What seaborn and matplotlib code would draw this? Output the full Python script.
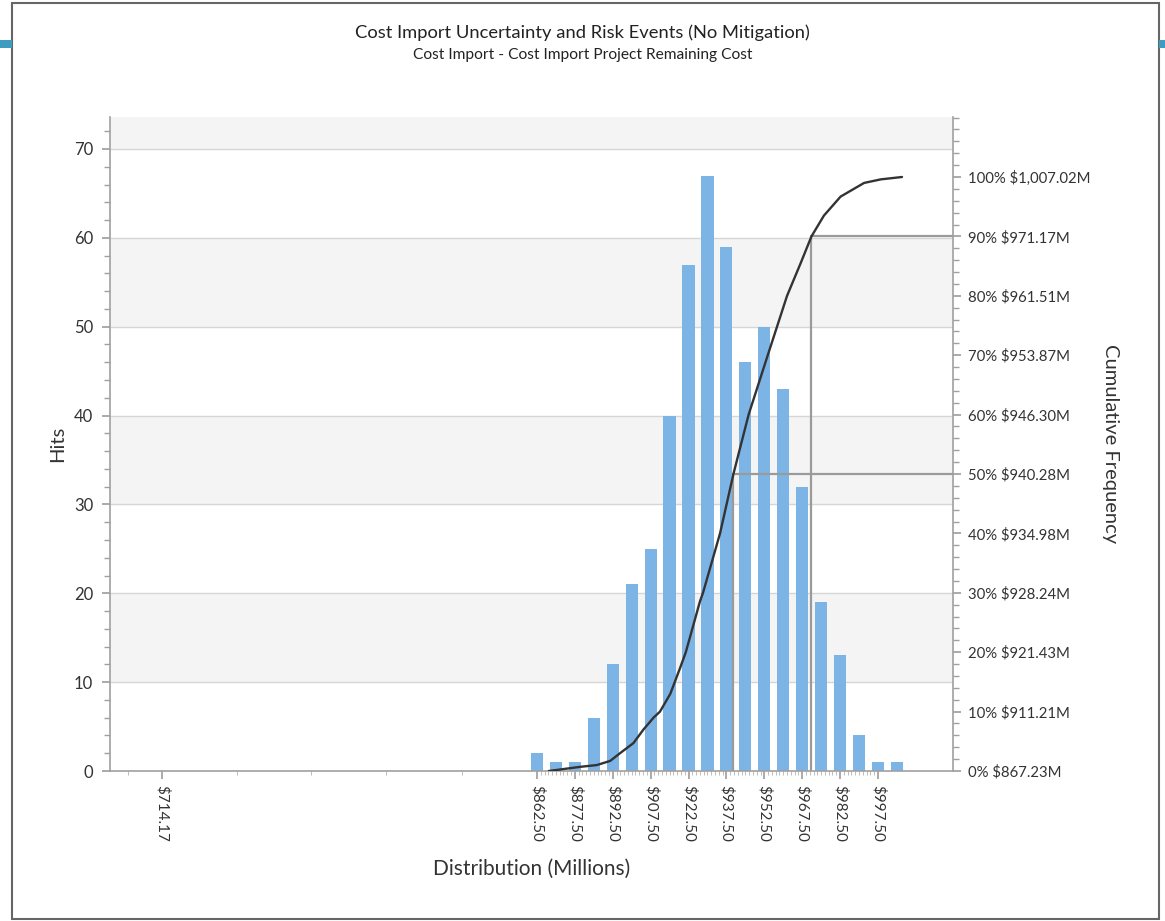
import numpy as np
import pandas as pd
import matplotlib
matplotlib.use("Agg")
import matplotlib.pyplot as plt
from matplotlib.patches import Rectangle
from matplotlib.ticker import FixedLocator, MultipleLocator
import seaborn as sns

# ---------------- data ----------------
bin_centers = [862.5, 870.0, 877.5, 885.0, 892.5, 900.0, 907.5, 915.0, 922.5, 930.0,
               937.5, 945.0, 952.5, 960.0, 967.5, 975.0, 982.5, 990.0, 997.5, 1005.0]
hits = [2, 1, 1, 6, 12, 21, 25, 40, 57, 67, 59, 46, 50, 43, 32, 19, 13, 4, 1, 1]

x_tick_values = [714.17, 862.5, 877.5, 892.5, 907.5, 922.5, 937.5, 952.5, 967.5, 982.5, 997.5]
x_tick_labels = ["$714.17", "$862.50", "$877.50", "$892.50", "$907.50", "$922.50",
                 "$937.50", "$952.50", "$967.50", "$982.50", "$997.50"]

pct_levels = [0, 10, 20, 30, 40, 50, 60, 70, 80, 90, 100]
pct_values = [867.23, 911.21, 921.43, 928.24, 934.98, 940.28, 946.30, 953.87, 961.51, 971.17, 1007.02]
pct_labels = ["0% $867.23M", "10% $911.21M", "20% $921.43M", "30% $928.24M", "40% $934.98M",
              "50% $940.28M", "60% $946.30M", "70% $953.87M", "80% $961.51M", "90% $971.17M",
              "100% $1,007.02M"]

curve_x = [867.23, 879.6, 886.2, 891.5, 895.4, 900.7, 904.7, 908.7, 911.21, 915.3, 919.3,
           921.43, 927.0, 928.24, 934.98, 940.28, 946.30, 953.87, 961.51, 966.9, 971.17, 976.1,
           982.7, 992.0, 998.6, 1007.02]
curve_pct = [0, 0.7, 1.0, 1.7, 3.0, 4.7, 7.0, 9.0, 10, 13.0, 17.5,
             20, 28.5, 30, 40, 50, 60, 70, 80, 85.5, 90, 93.5,
             96.7, 99.0, 99.6, 100]

ref_levels = [50, 90]

# ---------------- style ----------------
sns.set_theme(style="white")
plt.rcParams["font.family"] = ["Lato", "DejaVu Sans"]
text_col = "#333333"
axis_col = "#a0a0a0"
bar_col = "#7db4e6"

W, H = 1165, 921
fig = plt.figure(figsize=(W / 100, H / 100), dpi=100)
fig.patch.set_facecolor("white")

L, R, T, B = 110, 953, 117, 771
ax = fig.add_axes([L / W, 1 - B / H, (R - L) / W, (B - T) / H])
ax.set_facecolor("white")

ymax = 73.6
xmin, xmax = 693.5, 1027.2
ax.set_xlim(xmin, xmax)
ax.set_ylim(0, ymax)

# alternating bands + grid
for lo in (10, 30, 50, 70):
    ax.axhspan(lo, min(lo + 10, ymax), color="#f4f4f4", zorder=0, lw=0)
for g in range(10, 80, 10):
    ax.axhline(g, color="#d6d6d6", lw=1.0, zorder=0.5)

# bars
df = pd.DataFrame({"value": bin_centers, "hits": hits})
step = bin_centers[1] - bin_centers[0]
edges = [c - step / 2 for c in bin_centers] + [bin_centers[-1] + step / 2]
sns.histplot(data=df, x="value", weights="hits", bins=edges, shrink=0.64,
             color=bar_col, alpha=1.0, edgecolor="none", linewidth=0, ax=ax, zorder=2)
ax.set_xlim(xmin, xmax)
ax.set_ylim(0, ymax)

# axes styling
for s in ("top", "right"):
    ax.spines[s].set_visible(False)
for s in ("left", "bottom"):
    ax.spines[s].set_color(axis_col)
    ax.spines[s].set_linewidth(1.2)
ax.set_yticks(range(0, 80, 10))
ax.yaxis.set_minor_locator(MultipleLocator(2))
ax.tick_params(axis="y", which="major", length=6, color=axis_col, labelsize=12,
               labelcolor=text_col, left=True, pad=6)
ax.tick_params(axis="y", which="minor", length=4, color=axis_col, left=True)

ax.set_xticks(x_tick_values)
ax.set_xticklabels(x_tick_labels, rotation=270, fontsize=11, color=text_col)
minor_x = [700.7, 743.6, 772.9, 802.7, 832.7] + [862.5 + 1.5 * k for k in range(0, 91)]
ax.xaxis.set_minor_locator(FixedLocator(minor_x))
ax.tick_params(axis="x", which="major", length=6, color=axis_col, bottom=True, pad=4)
ax.tick_params(axis="x", which="minor", length=3, color="#bdbdbd", bottom=True, width=0.7)

ax.set_xlabel("Distribution (Millions)", fontsize=15, color=text_col, labelpad=12)
ax.set_ylabel("Hits", fontsize=14.5, color=text_col)
ax.yaxis.set_label_coords((66 - L) / (R - L), 0.5)

# cumulative axis
ax2 = ax.twinx()
ax2.set_ylim(0, (B - T) / ((B - 177) / 100))
ax2.set_xlim(xmin, xmax)
sns.lineplot(x=curve_x, y=curve_pct, ax=ax2, color="#333333", lw=1.7,
             estimator=None, sort=False, zorder=5)

for lev in ref_levels:
    v = pct_values[pct_levels.index(lev)]
    ax2.plot([v, v], [0, lev], color="#9a9a9a", lw=1.6, zorder=4)
    ax2.plot([v, xmax], [lev, lev], color="#9a9a9a", lw=1.6, zorder=4)

for s in ("top", "left", "bottom"):
    ax2.spines[s].set_visible(False)
ax2.spines["right"].set_color(axis_col)
ax2.spines["right"].set_linewidth(1.2)
ax2.set_yticks(pct_levels)
ax2.set_yticklabels(pct_labels, fontsize=10.7, color=text_col)
ax2.yaxis.set_minor_locator(MultipleLocator(2))
ax2.tick_params(axis="y", which="major", length=6, color=axis_col, right=True, pad=5)
ax2.tick_params(axis="y", which="minor", length=4, color=axis_col, right=True)
ax2.set_ylabel("Cumulative Frequency", fontsize=14.5, color=text_col, rotation=270,
               va="center")
ax2.yaxis.set_label_coords((1111 - L) / (R - L), 0.5)
ax2.grid(False)

# titles
fig.text(0.5, 1 - 33 / H, "Cost Import Uncertainty and Risk Events (No Mitigation)",
         ha="center", va="center", fontsize=13.2, color="#222222")
fig.text(0.5, 1 - 55 / H, "Cost Import - Cost Import Project Remaining Cost",
         ha="center", va="center", fontsize=11.2, color="#222222")

# outer frame and accents
fig.add_artist(Rectangle((12 / W, 1 - 919 / H), (1159 - 12) / W, (919 - 3) / H,
                         transform=fig.transFigure, fill=False, edgecolor="#666666", lw=1.5))
fig.add_artist(Rectangle((0, 1 - 48 / H), 12 / W, 8 / H, transform=fig.transFigure,
                         facecolor="#3d9cc0", edgecolor="none"))
fig.add_artist(Rectangle((1159 / W, 1 - 48 / H), 6 / W, 8 / H, transform=fig.transFigure,
                         facecolor="#3d9cc0", edgecolor="none"))

fig.savefig("out.png", dpi=100)
